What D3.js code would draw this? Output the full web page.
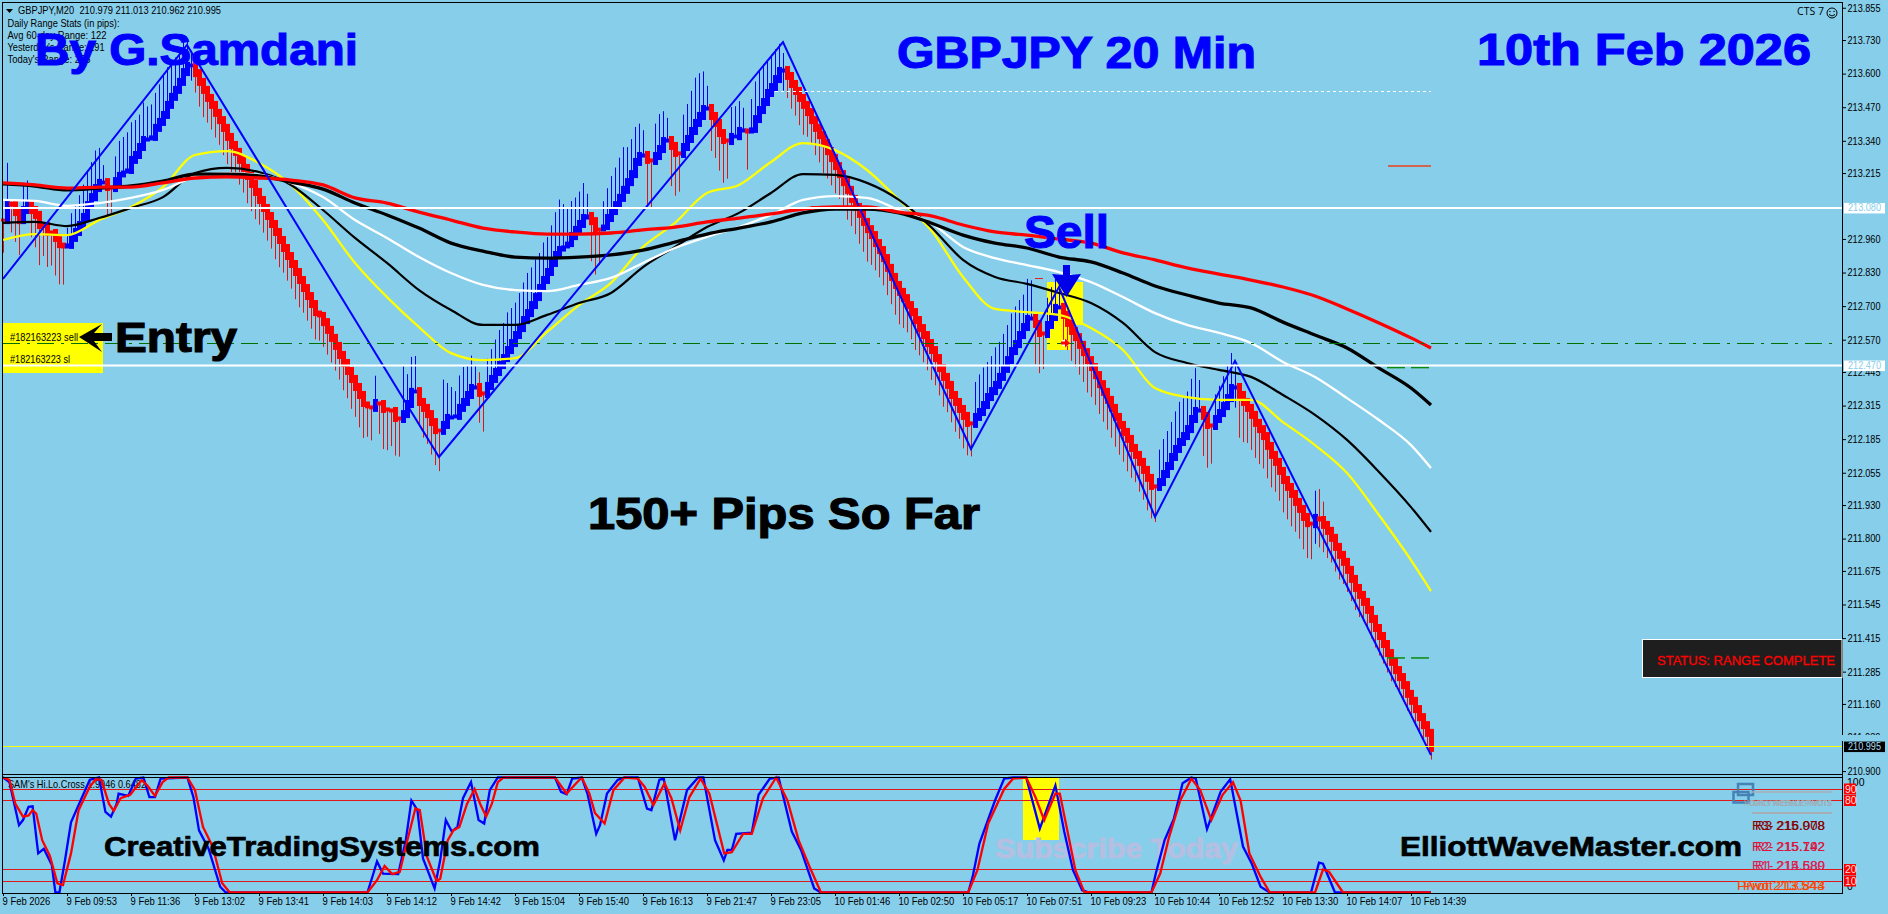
<!DOCTYPE html>
<html>
<head>
<meta charset="utf-8">
<script src="https://cdn.jsdelivr.net/npm/d3@7"></script>
<style>
  html, body { margin: 0; padding: 0; background: #87ceeb; overflow: hidden; }
  svg { display: block; }
  text { font-family: "Liberation Sans", Arial, sans-serif; }
  .bold { font-weight: bold; }
</style>
</head>
<body>
<div id="chartContainer"></div>
<script>
const closes = [
  213.033,213.099,213.091,213.064,213.033,213.072,213.091,213.072,213.053,213.014,213.010,212.987,212.983,212.964,212.940,212.929,
  212.937,212.964,212.987,213.014,213.045,213.091,213.122,213.157,213.177,213.180,213.161,213.157,213.184,213.204,213.219,213.227,
  213.266,213.285,213.316,213.343,213.347,213.355,213.390,213.413,213.440,213.479,213.510,213.537,213.568,213.606,213.630,213.633,
  213.602,213.568,213.537,213.506,213.479,213.448,213.420,213.390,213.355,213.324,213.297,213.266,213.235,213.204,213.173,213.142,
  213.111,213.080,213.049,213.018,212.987,212.956,212.925,212.894,212.863,212.832,212.801,212.770,212.739,212.708,212.677,212.662,
  212.638,212.608,212.577,212.546,212.511,212.480,212.449,212.418,212.387,212.356,212.325,212.310,212.306,212.325,212.321,212.302,
  212.298,212.294,212.267,212.263,212.282,212.321,212.368,212.371,212.329,212.306,212.282,212.251,212.220,212.217,212.240,212.267,
  212.271,212.275,212.306,212.329,212.356,212.383,212.387,212.364,212.360,212.391,212.418,212.445,212.472,212.499,212.530,212.557,
  212.588,212.615,212.646,212.673,212.704,212.735,212.770,212.801,212.832,212.867,212.898,212.917,212.929,212.944,212.971,212.995,
  213.018,213.041,213.049,213.029,212.998,212.995,213.010,213.041,213.068,213.091,213.119,213.150,213.180,213.211,213.258,213.281,
  213.285,213.266,213.262,213.281,213.308,213.339,213.343,213.320,213.293,213.289,213.316,213.347,213.378,213.409,213.436,213.463,
  213.467,213.436,213.409,213.370,213.343,213.339,213.355,213.358,213.378,213.382,213.374,213.386,213.424,213.459,213.490,213.525,
  213.548,213.579,213.610,213.614,213.591,213.560,213.533,213.506,213.479,213.451,213.420,213.390,213.362,213.331,213.300,213.273,
  213.242,213.211,213.180,213.150,213.115,213.084,213.057,213.026,212.998,212.975,212.944,212.917,212.886,212.848,212.813,212.782,
  212.755,212.731,212.704,212.677,212.646,212.615,212.588,212.557,212.530,212.499,212.460,212.426,212.395,212.356,212.329,212.302,
  212.275,212.248,212.244,212.271,212.290,212.317,212.348,212.371,212.395,212.426,212.457,212.491,212.526,212.553,212.588,212.619,
  212.650,212.654,212.631,212.596,212.592,212.627,212.658,212.693,212.697,212.666,212.635,212.604,212.580,212.550,212.522,212.491,
  212.464,212.433,212.398,212.368,212.337,212.306,212.271,212.240,212.213,212.186,212.151,212.124,212.097,212.066,212.035,212.004,
  212.000,212.019,212.050,212.081,212.116,212.147,212.174,212.197,212.224,212.263,212.294,212.298,212.275,212.240,212.236,212.263,
  212.286,212.313,212.344,212.383,212.387,212.356,212.329,212.306,212.279,212.248,212.224,212.197,212.159,212.124,212.097,212.062,
  212.027,212.000,211.973,211.942,211.915,211.884,211.860,211.856,211.880,211.872,211.853,211.830,211.803,211.768,211.737,211.710,
  211.679,211.644,211.609,211.582,211.555,211.524,211.489,211.454,211.423,211.392,211.357,211.323,211.291,211.264,211.233,211.199,
  211.172,211.140,211.109,211.078,211.048,210.990
];
// wick length of each bar in pips: up on blue bars, down on red bars
const wickPips = [
  12,14,10,10,12,9,8,9,11,14,11,12,12,13,14,14,
  6,8,9,10,11,12,12,13,12,6,10,9,8,12,13,14,13,12,11,13,12,12,12,13,14,13,12,11,11,10,9,5,
  6,8,9,8,8,8,8,9,9,9,8,8,8,9,9,9,8,8,8,8,9,9,8,8,8,9,9,8,8,8,9,9,8,8,8,8,8,9,9,10,10,11,12,11,
  12,9,11,14,15,13,13,14,17,10,12,13,7,10,10,11,12,15,16,12,11,9,11,12,10,11,8,10,14,
  9,10,11,12,12,13,12,11,12,13,14,13,13,12,13,12,13,15,18,16,13,12,11,11,12,8,
  14,16,13,
  9,10,12,13,14,15,12,12,12,11,9,
  16,18,
  11,12,10,8,
  14,15,14,
  11,12,14,16,15,13,8,
  12,12,13,15,14,
  10,11,10,8,
  14,
  11,13,14,13,11,11,10,9,6,
  7,8,8,9,10,8,8,9,9,10,9,9,9,8,9,10,9,9,10,10,11,10,9,9,9,9,9,10,11,10,9,9,10,9,9,9,10,9,9,10,9,9,10,10,11,11,12,
  12,13,13,12,12,13,12,12,12,13,13,12,11,14,14,
  14,14,13,
  9,10,11,9,
  9,9,10,10,10,10,11,10,10,10,10,10,10,10,10,10,11,10,9,10,10,11,11,13,
  11,12,12,12,13,14,13,13,14,15,11,
  14,15,14,
  8,9,10,11,12,8,
  15,14,12,12,12,12,11,11,11,10,10,11,11,11,10,10,11,12,13,
  9,
  10,9,9,8,8,8,7,7,7,7,7,6,6,6,6,6,6,6,6,5,5,5,5,5,5,4,4,4,3
];
const counterWickBars = [47, 119, 195, 308, 328, 329, 330];
const counterWickPips = [6, 8, 8, 8, 10, 12, 9];

const maBars = [0,8,16,24,32,40,48,56,64,72,80,88,96,104,112,120,128,136,144,152,160,168,176,184,192,200,208,216,224,232,240,248,256,264,272,280,288,296,304,312,320,328,336,344,352,357];
const maYellow = [212.956,212.979,212.975,213.033,213.084,213.161,213.285,213.300,213.254,213.169,213.033,212.867,212.735,212.619,212.518,212.491,212.499,212.600,212.704,212.790,212.929,213.022,213.138,213.169,213.258,213.331,213.304,213.227,213.111,212.995,212.813,212.689,212.677,212.666,212.615,212.530,212.383,212.348,212.337,212.337,212.251,212.162,212.054,211.891,211.717,211.597];
const maBlackThin = [213.022,213.026,213.010,213.041,213.080,213.122,213.215,213.235,213.219,213.169,213.072,212.964,212.867,212.762,212.685,212.627,212.627,212.666,212.712,212.751,212.851,212.929,213.006,213.061,213.138,213.211,213.208,213.177,213.111,213.006,212.879,212.813,212.786,212.751,212.712,212.635,212.522,212.480,212.453,212.426,212.356,212.279,212.182,212.058,211.922,211.826];
const maWhite = [213.111,213.107,213.088,213.099,213.119,213.150,213.200,213.215,213.208,213.177,213.122,213.033,212.964,212.890,212.828,212.782,212.762,212.758,212.782,212.809,212.867,212.925,212.968,213.006,213.053,213.111,213.126,213.119,213.072,213.022,212.929,212.886,212.859,212.832,212.793,212.735,212.673,212.627,212.596,212.557,212.484,212.426,212.344,212.259,212.162,212.073];
const maBlackThick = [213.173,213.165,213.150,213.157,213.165,213.184,213.211,213.211,213.204,213.180,213.153,213.099,213.053,213.002,212.944,212.913,212.890,212.886,212.890,212.898,212.917,212.948,212.979,213.002,213.026,213.061,213.076,213.076,213.061,213.022,212.975,212.944,212.925,212.890,212.871,212.828,212.778,212.743,212.712,212.693,212.638,212.588,212.538,212.460,212.383,212.317];
const maRed = [213.177,213.169,213.157,213.161,213.161,213.177,213.196,213.200,213.196,213.188,213.169,213.119,213.099,213.064,213.033,213.002,212.987,212.979,212.979,212.983,212.995,213.006,213.026,213.041,213.057,213.076,213.084,213.084,213.064,213.049,213.014,212.987,212.975,212.960,212.944,212.906,212.879,212.848,212.824,212.801,212.774,212.739,212.689,212.635,212.577,212.538];

const zigzagBars = [0, 46, 109, 195, 242, 264, 288, 308, 357];
const zigzagPrices = [212.805, 213.711, 212.116, 213.722, 212.147, 212.774, 211.884, 212.488, 210.962];

const stochMainBars = [0,1.6,4,5,6.4,7.4,8.8,10.2,12.2,13.1,14.1,15.5,17,19.4,21.7,24,25.6,27,28.4,28.9,31.3,33.2,35.1,36.6,38,39.4,46.1,47.6,49,51.4,54.3,55.7,91.1,92.6,93.5,95,98.8,100.7,102.1,103.6,105,107.9,109.3,110.7,112.2,113.6,115,117,118.9,120.3,121.7,123.7,138,139.5,140.9,142.3,144.7,146.1,148.3,149.25,151,153.7,155.4,158.7,161,162.1,164.1,165.2,168,171,173.8,175.1,178,180.2,181.1,182.2,183.3,187.2,188.9,191.7,193.9,197.2,199.5,202.8,204.5,241.3,242.4,244.1,248,250.3,252.5,255.8,259.2,263.1,265.3,267.5,269.8,271.5,287.1,288.2,290.4,292.7,294.9,297.1,298.2,301,304.4,306.8,310,312.2,314.4,316.7,327,329,330,333,357];
const stochMain = [100,96,58.5,63,74.5,75,34,38,24,0,0,28,61,80,98,100,70,66,77,86,84,99,100,83,83,99,100,83,54,38,5,0,0,16.5,27,16.5,16,45.5,80,71.6,29.6,3.5,28,63,53,57,82,96,63,60,89,100,100,87.5,85.5,99,100,86,51,58.5,86,98,100,100,73,71.6,98,99,45.5,89,100,100,45.5,28,37,37,51,52,85,99,100,53,37,3.5,0,0,13.6,42.6,80,99,100,100,55.6,93,53,19.4,2,0,0,16.5,45.5,64,95,100,99,55,87.5,98.5,40,25,5,0,0,26,25,0,0];
const stochSignalBars = [0,1.6,3.1,5,6.4,7.4,8.3,9.8,11.7,13.6,15,17,18.9,21.7,23.2,24.6,26.5,27.7,29.4,31.8,34.7,36.1,38,39.9,41.4,46.1,48,50,52.4,54.8,56.7,91.1,93.5,95.4,97.3,99.2,100.7,103.1,104.2,106,108.4,109.3,111.2,112.6,114.1,116,117.9,119.3,120.8,122.2,123.7,125.1,138,140.9,143.3,144.7,146.6,148,150.4,152.6,155.4,158.7,160.4,162.6,165.4,167.1,169.3,171.6,174.4,176.6,180.3,182.2,185,187.2,190,193.3,196.1,198.9,201.7,204.5,241.3,243.6,246.3,250.3,252.5,255.8,258.1,260.3,263.1,264.2,265.9,268.1,270.3,287.1,289.3,291.5,294.3,297.1,299.3,302.1,304.9,307.5,309.4,311.6,314.4,316.7,328,330,331.5,335,357];
const stochSignal = [100,98,77,66,67,71.6,68.7,45.5,32,8,6.4,34,71.6,92,98.5,98,77,71,82,85,97.7,93,84,96,100,100,89,57,40,8,0,0,10.7,23,16,18,40,73,71.6,31,10,12,45.5,54,57,77,90,77,66,77,96,100,100,86,95,100,86,69,60,89,100,99,92,76,95,82,54,83,99,86,34,35,51,51,82,100,80,45.5,22,0,0,19.4,60,90,99,100,83,63,86,86,57,19.4,0.6,0,16.5,48,80,99,89,63,85,96,80,34,13.6,0,0,20,18,0,0];

const priceTicks = [213.855,213.73,213.6,213.47,213.34,213.215,212.96,212.83,212.7,212.57,212.445,212.315,212.185,212.055,211.93,211.8,211.675,211.545,211.415,211.285,211.16,211.03,210.9];
const timeLabels = ["9 Feb 2026","9 Feb 09:53","9 Feb 11:36","9 Feb 13:02","9 Feb 13:41","9 Feb 14:03","9 Feb 14:12","9 Feb 14:42","9 Feb 15:04","9 Feb 15:40","9 Feb 16:13","9 Feb 21:47","9 Feb 23:05","10 Feb 01:46","10 Feb 02:50","10 Feb 05:17","10 Feb 07:51","10 Feb 09:23","10 Feb 10:44","10 Feb 12:52","10 Feb 13:30","10 Feb 14:07","10 Feb 14:39"];
const TIME_TICK_EVERY = 16;

const WIDTH = 1888;
const HEIGHT = 914;
const PLOT_LEFT = 3;
const PLOT_RIGHT = 1842;
const SUB_BOTTOM = 893;
const BG = "#87ceeb";

const x = d3.scaleLinear().domain([0, closes.length - 1]).range([3, 1431]);
const y = d3.scaleLinear().domain([213.885, 210.9]).range([0, 771.1]);
const yStoch = d3.scaleLinear().domain([0, 100]).range([892.5, 777.5]);
const PIP = 0.01;

const svg = d3.select("#chartContainer").append("svg").attr("width", WIDTH).attr("height", HEIGHT);

const addText = (px, py, str, o = {}) => svg.append("text")
  .attr("x", px).attr("y", py)
  .attr("font-size", o.size || 10.5)
  .attr("fill", o.fill || "#000")
  .attr("class", o.bold ? "bold" : null)
  .attr("text-anchor", o.anchor || "start")
  .attr("textLength", o.fit || null)
  .attr("lengthAdjust", o.fit ? "spacingAndGlyphs" : null)
  .attr("stroke", o.heavy ? (o.fill || "#000") : null)
  .attr("stroke-width", o.heavy || null)
  .style("font-family", o.font || null)
  .text(str);

// yellow highlights sit under the candles
const highlight = (x0, y0, x1, y1) => svg.append("rect")
  .attr("x", x0).attr("y", y0).attr("width", x1 - x0).attr("height", y1 - y0).attr("fill", "#ffff00");
highlight(3, 323, 103, 373);
highlight(1047, 282, 1070, 350);
highlight(1047, 282, 1083, 325);
highlight(1023, 777, 1059, 840);

// candles
const isUp = i => i > 0 ? closes[i] > closes[i - 1] : false;
const bodyPad = (d, i) => Math.abs(y(d) - y(i ? closes[i - 1] : d)) > 4 ? 4 : 1.5;
const candles = svg.append("g");
candles.selectAll("rect.wick").data(closes).join("rect")
  .attr("class", "wick")
  .attr("x", (d, i) => Math.round(x(i)))
  .attr("width", 1)
  .attr("y", (d, i) => {
    const counter = counterWickBars.indexOf(i);
    if (isUp(i)) return y(d + wickPips[i] * PIP) - bodyPad(d, i);
    return counter >= 0 ? y(d + counterWickPips[counter] * PIP) : y(d);
  })
  .attr("height", (d, i) => {
    const counter = counterWickBars.indexOf(i);
    const extra = counter >= 0 ? counterWickPips[counter] : 0;
    return (wickPips[i] + extra) * PIP * 258.3 + bodyPad(d, i);
  })
  .attr("fill", (d, i) => isUp(i) ? "#0000ff" : "#dc1414");
candles.selectAll("rect.body").data(closes).join("rect")
  .attr("class", "body")
  .attr("x", (d, i) => Math.round(x(i)) - 2)
  .attr("width", 5)
  .attr("y", (d, i) => Math.min(y(d), y(i ? closes[i - 1] : d)) - bodyPad(d, i))
  .attr("height", (d, i) => Math.abs(y(d) - y(i ? closes[i - 1] : d)) + 2 * bodyPad(d, i))
  .attr("fill", (d, i) => isUp(i) ? "#0000ff" : "#ff0000");

// moving averages
const drawLine = (bars, values, yScale, color, width, curve) => svg.append("path")
  .attr("d", d3.line().x((d, i) => x(bars[i])).y(d => yScale(d)).curve(curve)(values))
  .attr("fill", "none").attr("stroke", color).attr("stroke-width", width);
drawLine(maBars, maYellow, y, "#ffff00", 2.3, d3.curveMonotoneX);
drawLine(maBars, maBlackThin, y, "#000", 2.2, d3.curveMonotoneX);
drawLine(maBars, maWhite, y, "#fff", 2.3, d3.curveMonotoneX);
drawLine(maBars, maBlackThick, y, "#000", 3.3, d3.curveMonotoneX);
drawLine(maBars, maRed, y, "#ff0000", 3.3, d3.curveMonotoneX);

// zigzag
drawLine(zigzagBars, zigzagPrices, y, "#0000ff", 2, d3.curveLinear);

// levels
const hLine = (x0, x1, py, color, width, dash) => svg.append("line")
  .attr("x1", x0).attr("x2", x1)
  .attr("y1", width === 1 ? Math.floor(py) + 0.5 : py).attr("y2", width === 1 ? Math.floor(py) + 0.5 : py)
  .attr("stroke", color).attr("stroke-width", width).attr("stroke-dasharray", dash || null);
hLine(PLOT_LEFT, 1836, y(212.557), "#007000", 1, "17 7 3 7");
hLine(x(193), x(357), y(213.529), "#fff", 1, "3 3");
hLine(x(202), x(217.5), y(213.084), "#ff0000", 1);
hLine(x(258), x(260), y(212.805), "#e02020", 1);
hLine(x(265), x(267), y(212.805), "#e02020", 1);
hLine(1388, 1431, y(213.242), "#e8401c", 1.5);
hLine(1387, 1405, y(212.462), "#0a8a0a", 1.5);
hLine(1411, 1429, y(212.462), "#0a8a0a", 1.5);
hLine(1387, 1405, y(211.338), "#0a8a0a", 1.5);
hLine(1411, 1429, y(211.338), "#0a8a0a", 1.5);
hLine(PLOT_LEFT, PLOT_RIGHT, y(213.08), "#fff", 2);
hLine(PLOT_LEFT, PLOT_RIGHT, y(212.47), "#fff", 2);
hLine(PLOT_LEFT, PLOT_RIGHT, y(210.995), "#ffff00", 1);

// order marker under the sell arrow
svg.append("circle").attr("cx", 1065).attr("cy", 343).attr("r", 3.5).attr("fill", "#fff");
svg.append("path").attr("d", "M1061,341.5h4v-3l5,4.5l-5,4.5v-3h-4z").attr("fill", "#ff0000");

// stochastic panel
addText(8, 788, "SAM's Hi.Lo.Cross 1.9946 0.6482", { fit: 138 });
[90, 80, 20, 10].forEach(v => hLine(PLOT_LEFT, PLOT_RIGHT, yStoch(v), "#e01818", 1));
addText(995, 858, "Subscribe Today", { size: 28, bold: true, fill: "#b4bfe2", fit: 243, heavy: 0.8 });
svg.append("rect").attr("x", 1738).attr("y", 784).attr("width", 15).attr("height", 11)
  .attr("fill", "none").attr("stroke", "#4682b4").attr("stroke-width", 2.5);
svg.append("rect").attr("x", 1733.5).attr("y", 792).attr("width", 15).attr("height", 10.5)
  .attr("fill", "none").attr("stroke", "#4682b4").attr("stroke-width", 2.5);
hLine(1752, 1832, 792, "#a9aeb4", 1.5);
hLine(1752, 1832, 813, "#a9aeb4", 2);
addText(1832, 806, "HOURLY AVERAGE PIVOTS", { size: 8.5, fill: "#a2a9ae", anchor: "end", fit: 88 });
addText(1832, 806, "DAILY WEEKLY PIVOTS", { size: 8.5, fill: "#a2a9ae", anchor: "end", fit: 82 });
drawLine(stochMainBars, stochMain, yStoch, "#0000ff", 2.3, d3.curveLinear);
drawLine(stochSignalBars, stochSignal, yStoch, "#ff0000", 2.3, d3.curveLinear);

// pivot rows, two indicator copies printed on top of each other
const PIVOT_ROWS = [
  { y: 830, fill: "#8b0000", a: "R3- 216.008", b: "R3 215.978" },
  { y: 851, fill: "#dc143c", a: "R2- 215.192", b: "R2 215.742" },
  { y: 870, fill: "#dc1e50", a: "R1- 214.680", b: "R1 215.589" },
  { y: 890, fill: "#ff4500", a: "Pivot 213.844", b: "Pivot 213.543" }
];
PIVOT_ROWS.forEach(r => {
  addText(1825, r.y, r.b, { size: 13, fill: r.fill, anchor: "end", fit: r.b.startsWith("Pivot") ? 88 : 70 });
  addText(1825, r.y, r.a, { size: 13, fill: r.fill, anchor: "end", fit: r.a.startsWith("Pivot") ? 82 : 73 });
});

// frame
const vLine = (px, y0, y1, w) => svg.append("line").attr("x1", px).attr("x2", px).attr("y1", y0).attr("y2", y1)
  .attr("stroke", "#000").attr("stroke-width", w || 1);
hLine(PLOT_LEFT - 1, PLOT_RIGHT, 2.5, "#000", 1);
hLine(PLOT_LEFT - 1, PLOT_RIGHT + 1, 774.5, "#000", 1);
hLine(PLOT_LEFT - 1, PLOT_RIGHT + 1, 777.5, "#000", 1);
vLine(2.5, 2, 893);

// axes
const axisFont = "Liberation Sans, Arial, sans-serif";
const priceAxis = svg.append("g")
  .attr("transform", `translate(${PLOT_RIGHT},0)`)
  .call(d3.axisRight(y).tickValues(priceTicks).tickFormat(d3.format(".3f")).tickSize(4).tickPadding(1.5));
priceAxis.select(".domain").remove();
priceAxis.selectAll("text").attr("font-family", axisFont).attr("font-size", 10.5).attr("fill", "#000")
  .attr("textLength", 33).attr("lengthAdjust", "spacingAndGlyphs");
priceAxis.selectAll("line").attr("stroke", "#000");
vLine(PLOT_RIGHT + 0.5, 2, 893);

const timeAxis = svg.append("g")
  .attr("transform", `translate(0,${SUB_BOTTOM})`)
  .call(d3.axisBottom(x)
    .tickValues(timeLabels.map((d, i) => i * TIME_TICK_EVERY))
    .tickFormat((d, i) => timeLabels[i])
    .tickSize(3).tickPadding(2).tickSizeOuter(0));
timeAxis.select(".domain").remove();
timeAxis.selectAll("line").attr("stroke", "#000");
timeAxis.selectAll("text").attr("font-family", axisFont).attr("font-size", 10.5).attr("fill", "#000")
  .attr("text-anchor", "start").attr("dx", -1)
  .each(function () {
    this.setAttribute("textLength", this.getComputedTextLength() * 0.9);
    this.setAttribute("lengthAdjust", "spacingAndGlyphs");
  });
hLine(PLOT_LEFT - 1, PLOT_RIGHT + 1, SUB_BOTTOM + 0.5, "#000", 1);

// price tags
const priceTag = (py, bg, fg, label) => {
  svg.append("rect").attr("x", 1844).attr("y", py - 5).attr("width", 41).attr("height", 10.5).attr("fill", bg);
  addText(1848, py + 3.5, label, { size: 10.5, fill: fg, fit: 33 });
};
priceTag(y(213.08), "#fff", BG, "213.080");
priceTag(y(212.47), "#fff", BG, "212.470");
svg.append("rect").attr("x", 1842).attr("y", 735).attr("width", 46).attr("height", 6).attr("fill", BG);
priceTag(y(210.995), "#000", "#a8dcf2", "210.995");

// stochastic scale tags
addText(1847, 786, "100", { size: 10.5 });
addText(1847, 890, "0", { size: 10.5 });
const levelTag = v => {
  svg.append("rect").attr("x", 1844).attr("y", yStoch(v) - 5.5).attr("width", 12).attr("height", 11).attr("fill", "#ff0000");
  addText(1845, yStoch(v) + 3.5, String(v), { size: 10.5, fill: "#ffd9d9" });
};
[90, 80, 20, 10].forEach(levelTag);

// status box
svg.append("rect").attr("x", 1642.5).attr("y", 639.5).attr("width", 199.5).attr("height", 38)
  .attr("fill", "#1e1e1e").attr("stroke", "#fff").attr("stroke-width", 1);
addText(1657, 665, "STATUS: RANGE COMPLETE", { size: 13, fill: "#ff0000", fit: 178, heavy: 0.3 });

// chart header
svg.append("path").attr("d", "M6,9h7l-3.5,4z").attr("fill", "#000");
addText(18, 14, "GBPJPY,M20  210.979 211.013 210.962 210.995", { fit: 203 }).style("white-space", "pre");
addText(7.5, 27, "Daily Range Stats (in pips):", { fit: 112 });
addText(7.5, 39, "Avg 60-day Range: 122", { fit: 99 });
addText(7.5, 51, "Yesterday's Range: 191", { fit: 97 });
addText(7.5, 63, "Today's Range: 276", { fit: 83 });
addText(1797, 15, "CTS 7", { size: 11, fit: 27, font: "Open Sans" });
svg.append("circle").attr("cx", 1832).attr("cy", 13).attr("r", 5).attr("fill", "none").attr("stroke", "#000");
svg.append("circle").attr("cx", 1830).attr("cy", 11.5).attr("r", 0.7).attr("fill", "#000");
svg.append("circle").attr("cx", 1834).attr("cy", 11.5).attr("r", 0.7).attr("fill", "#000");
svg.append("path").attr("d", "M1829,14.5q3,3 6,0").attr("fill", "none").attr("stroke", "#000");

// big overlay labels
const BLUE = "#0000ff";
addText(35, 65, "By G.Samdani", { size: 45, bold: true, fill: BLUE, fit: 323, heavy: 1.1 });
addText(897, 68, "GBPJPY 20 Min", { size: 45, bold: true, fill: BLUE, fit: 359, heavy: 1.1 });
addText(1477, 65, "10th Feb 2026", { size: 45, bold: true, fill: BLUE, fit: 334, heavy: 1.1 });
addText(1024, 248, "Sell", { size: 46, bold: true, fill: BLUE, fit: 85, heavy: 1.1 });
svg.append("path").attr("d", "M1063,265h7v10l11,-1l-14.5,23l-14.5,-23l11,1z").attr("fill", "#0000e8");
addText(115, 352, "Entry", { size: 43, bold: true, fit: 122, heavy: 1.2 });
svg.append("path").attr("d", "M79,337L102,324L94,333H112V341H94L102,352z").attr("fill", "#000");
addText(10, 341, "#182163223 sell", { size: 10.5, fit: 68 });
addText(10, 363, "#182163223 sl", { size: 10.5, fit: 60 });
addText(588, 529, "150+ Pips So Far", { size: 44, bold: true, fit: 392, heavy: 1.2 });
addText(104, 856, "CreativeTradingSystems.com", { size: 28, bold: true, fit: 436, heavy: 0.7 });
addText(1400, 856, "ElliottWaveMaster.com", { size: 28, bold: true, fit: 342, heavy: 0.7 });
</script>
</body>
</html>
